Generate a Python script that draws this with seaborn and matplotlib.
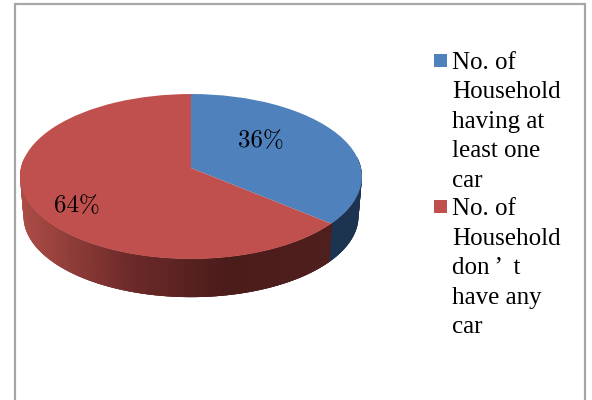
import numpy as np
import matplotlib
matplotlib.use("Agg")
import matplotlib.pyplot as plt
from matplotlib.patches import Rectangle
from matplotlib.legend_handler import HandlerPatch
from matplotlib.transforms import Transform
import seaborn as sns

# ── Data ───────────────────────────────────────────────────────────────
labels = ["No. of\nHousehold\nhaving at\nleast one\ncar",
          "No. of\nHousehold\ndon\u2009’  t\nhave any\ncar"]
shares = [36, 64]
top_colors = ["#4F81BD", "#C0504D"]
side_blue = "#1D3451"
side_red = ["#AB4C46", "#6E2B2A", "#4A1C1A", "#4F1F1D"]

sns.set_theme(style="white")
plt.rcParams["font.family"] = ["Liberation Serif", "DejaVu Serif"]

# pie geometry in pixels
CX, CY = 191, 168
A, B, K = 170, 81.6, 0.103
DEPTH, SHRINK = 40, 0.98


class Perspective(Transform):
    """unit circle -> tilted disc, in image pixels"""
    input_dims = output_dims = 2
    is_affine = False

    def __init__(self, scale=1.0, drop=0):
        super().__init__()
        self.scale, self.drop = scale, drop

    def transform_non_affine(self, pts):
        pts = np.asarray(pts, float)
        w = 1 + K * pts[:, 1]
        x = CX + self.scale * A * pts[:, 0] / w
        y = CY + self.drop - self.scale * B * pts[:, 1] / w
        return np.column_stack([x, y])


fig = plt.figure(figsize=(5.92, 4), dpi=100)
ax = fig.add_axes([0, 0, 1, 1])

wedges, _, pct = ax.pie(shares, colors=top_colors, startangle=90, counterclock=False,
                        autopct="%d%%", wedgeprops={"linewidth": 0, "zorder": 3},
                        textprops={"fontsize": 18, "color": "black", "family": "cmr10"})
ax.set_aspect("auto")
ax.set_xlim(0, 592)
ax.set_ylim(400, 0)

persp = Perspective()
for w in wedges:
    w.set_transform(persp + ax.transData)
    w.set_clip_on(False)

pct[0].set_position((261, 141))
pct[1].set_position((77, 206))
for t in pct:
    t.set_zorder(5)

# side wall, front half of the disc only
split = 90 - 360 * shares[0] / sum(shares) + 360
deg = np.arange(172, 369, 1.0)
angles = np.radians(deg)
unit = np.column_stack([np.cos(angles), np.sin(angles)])
top = persp.transform_non_affine(unit)
bot = Perspective(SHRINK, DEPTH).transform_non_affine(unit)
grad = sns.blend_palette(side_red, n_colors=100)
for i in range(len(angles) - 3):
    # each strip reaches under the next one so no seams show
    quad = np.vstack([top[i], top[i + 3], bot[i + 3], bot[i]])
    if deg[i] < split:
        frac = np.clip((top[i, 0] - 20) / 311, 0, 0.999)
        col = grad[int(frac * 100)]
    else:
        col = side_blue
    ax.fill(quad[:, 0], quad[:, 1], facecolor=col, edgecolor="none", lw=0, zorder=2)

# outer frame
ax.plot([15, 15, 585, 585], [400, 4, 4, 400], color="#A6A6A6", lw=1.6, zorder=1,
        solid_joinstyle="miter")


def swatch(legend, orig_handle, xdescent, ydescent, width, height, fontsize):
    return Rectangle((0, 46), width, width)


leg = ax.legend(wedges, labels, loc="upper left", bbox_to_anchor=(452 - 18, 52),
                bbox_transform=ax.transData, frameon=False, fontsize=18,
                borderpad=0, borderaxespad=0, labelspacing=0.26,
                handlelength=0.52, handletextpad=0.2,
                handler_map={type(wedges[0]): HandlerPatch(patch_func=swatch)})
for t in leg.get_texts():
    t.set_linespacing(1.44)
    t.set_color("black")

fig.savefig("out.png", dpi=100)
